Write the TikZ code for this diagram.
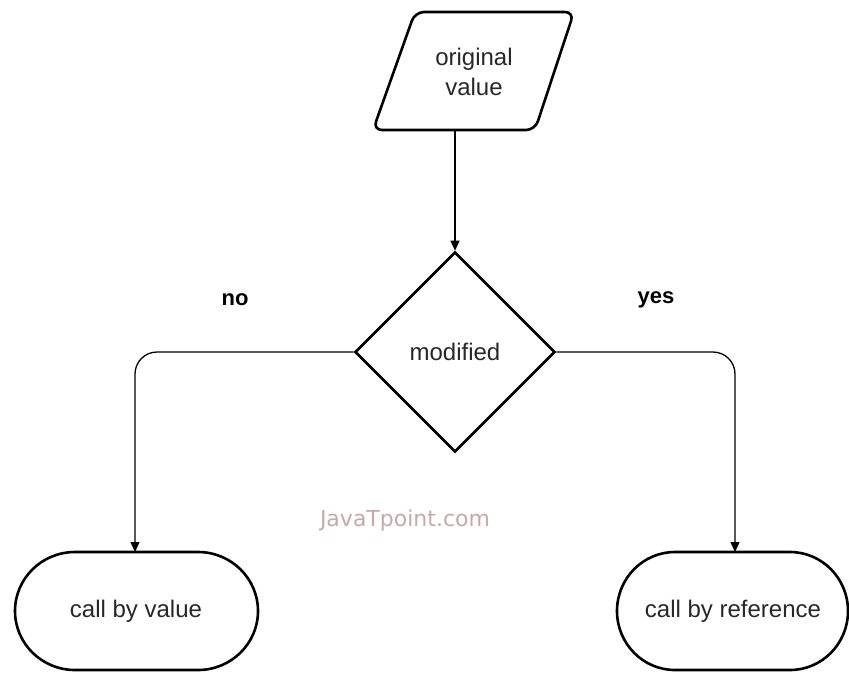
\documentclass[tikz,border=0pt]{standalone}
\usepackage{fontspec}
\setmainfont{Liberation Sans}
\newfontfamily\wmfont{DejaVu Sans}
\usetikzlibrary{shapes.geometric,arrows.meta}
\definecolor{txt}{RGB}{40,40,40}
\definecolor{wm}{RGB}{200,168,174}
\begin{document}
\begin{tikzpicture}[x=1pt,y=-1pt,
  shapeline/.style={line width=2.6pt,draw=black},
  lbl/.style={font=\fontsize{24}{30}\selectfont,text=txt,align=center},
  conn/.style={line width=1.3pt,draw=black,-{Triangle[length=10pt,width=9pt]},rounded corners=22pt},
  term/.style={shapeline,fill=white}]
\useasboundingbox[fill=white] (0,0) rectangle (849,673);
% parallelogram
\draw[shapeline,rounded corners=9pt,fill=white] (415,12) -- (574,12) -- (535,130) -- (373,130) -- cycle;
\node[lbl] (orig) at (474,72) {original\\value};
\coordinate (origbot) at (455,130);
% decision
\node[shapeline,diamond,minimum width=200pt,minimum height=200pt,inner sep=0pt,lbl,fill=white] (dec) at (455,352) {modified};
% terminals
\draw[term] (75,552) -- (198,552) arc[start angle=90,end angle=-90,x radius=60pt,y radius=59pt]
  -- (75,670) arc[start angle=270,end angle=90,x radius=60pt,y radius=59pt] -- cycle;
\node[lbl] (cbv) at (136,611) {call by value};
\coordinate (cbvtop) at (135,552);
\draw[term] (675,552) -- (790,552) arc[start angle=90,end angle=-90,x radius=58pt,y radius=59pt]
  -- (675,670) arc[start angle=270,end angle=90,x radius=58pt,y radius=59pt] -- cycle;
\node[lbl] (cbr) at (733,611) {call by reference};
\coordinate (cbrtop) at (735,552);
% connectors
\draw[conn] (origbot) -- (dec.north);
\draw[conn] (dec.west) -| (cbvtop);
\draw[conn] (dec.east) -| (cbrtop);
% labels
\node[font=\bfseries\fontsize{22}{26}\selectfont] (no) at (235,300) {no};
\node[font=\bfseries\fontsize{22}{26}\selectfont] (yes) at (656,300) {yes};
\node[font=\wmfont\fontsize{22}{26}\selectfont,text=wm] (wmark) at (405,520) {JavaTpoint.com};
\end{tikzpicture}
\end{document}
